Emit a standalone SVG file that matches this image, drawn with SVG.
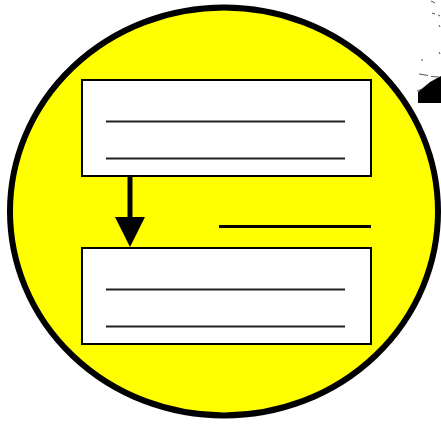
<svg xmlns="http://www.w3.org/2000/svg" width="441" height="424" viewBox="0 0 441 424">
<style>
.box{fill:#fff;stroke:#000;stroke-width:2}
.ln{stroke:#222;stroke-width:2;fill:none}
.frag{stroke:#555;stroke-width:1;fill:none}
</style>
<rect width="441" height="424" fill="#fff"/>
<g id="circle">
<ellipse cx="224" cy="211.5" rx="214" ry="204" fill="#ffff00" stroke="#000" stroke-width="6"/>
</g>
<g id="fragment">
<polygon points="418,103 441,103 441,76 430,82 418,92" fill="#000"/>
<path class="frag" d="M419,74 L428,75.5 M431,76.5 L439,77 M417,91 L422,89 M431,1 L435,3 M432,13 L435,14 M438,15 L440,16 M439,25 L440,27 M439,52 L440,54 M422,59 L422,61"/>
</g>
<g id="node1">
<rect class="box" x="82" y="80" width="289" height="96"/>
<path class="ln" d="M106,121.5 H345 M106,158.5 H345"/>
</g>
<g id="node2">
<rect class="box" x="82" y="248" width="289" height="96"/>
<path class="ln" d="M106,289.5 H345 M106,326.5 H345"/>
</g>
<g id="label-line">
<path d="M219,226.5 H371" stroke="#000" stroke-width="3"/>
</g>
<g id="connectors">
<path d="M130,177 V218" stroke="#000" stroke-width="5"/>
<polygon points="115,217 145,217 130,247" fill="#000"/>
</g>
</svg>
